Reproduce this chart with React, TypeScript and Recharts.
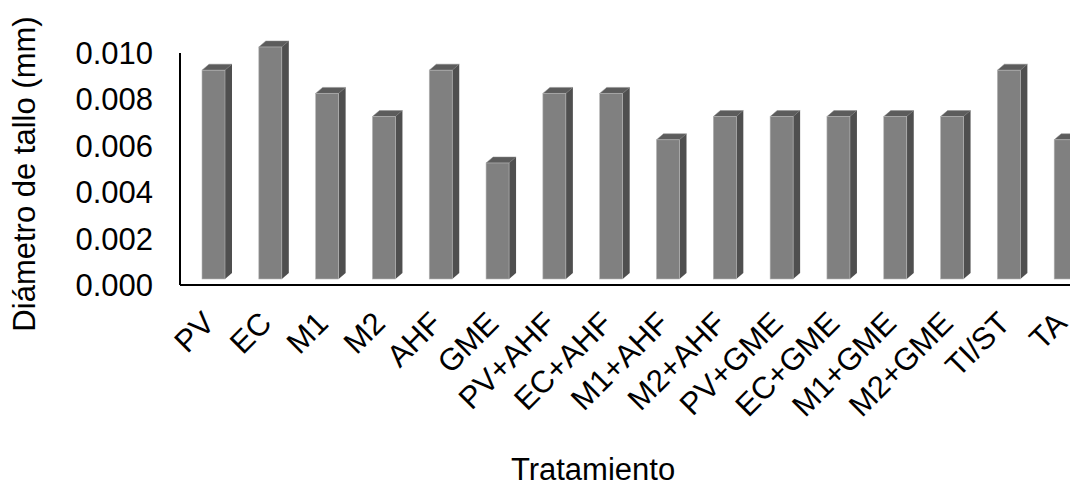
import { BarChart, Bar, XAxis, YAxis } from "recharts";

const categories = [
  "PV", "EC", "M1", "M2", "AHF", "GME", "PV+AHF", "EC+AHF",
  "M1+AHF", "M2+AHF", "PV+GME", "EC+GME", "M1+GME", "M2+GME", "TI/ST", "TA",
];
const diametro = [
  0.009, 0.01, 0.008, 0.007, 0.009, 0.005, 0.008, 0.008,
  0.006, 0.007, 0.007, 0.007, 0.007, 0.007, 0.009, 0.006,
];
const yTicks = [0, 0.002, 0.004, 0.006, 0.008, 0.01];

const data = categories.map((name, i) => ({ name, value: diametro[i] }));

const FONT = "'Liberation Sans', Arial, sans-serif";

// excel-style 3d column: front face, dark side, top
const Bar3D = (props: any) => {
  const { x, y, width, height } = props;
  const dx = 7;
  const dy = 6;
  const lift = 6;
  const top = y - lift;
  const bottom = y + height - lift;
  return (
    <g>
      <polygon
        points={`${x},${top} ${x + dx},${top - dy} ${x + width + dx},${top - dy} ${x + width},${top}`}
        fill="#5c5c5c"
        stroke="#8a8a8a"
        strokeWidth={0.5}
      />
      <polygon
        points={`${x + width},${top} ${x + width + dx},${top - dy} ${x + width + dx},${bottom - dy} ${x + width},${bottom}`}
        fill="#4f4f4f"
      />
      <rect x={x} y={top} width={width} height={height} fill="#808080" stroke="#b5b5b5" strokeWidth={0.6} />
    </g>
  );
};

const XTick = (props: any) => {
  const { x, payload } = props;
  return (
    <g transform={`translate(${x + 3},${317})`}>
      <text textAnchor="end" transform="rotate(-45)" fontSize={31} fontFamily={FONT} fill="#000">
        {payload.value}
      </text>
    </g>
  );
};

const YTick = (props: any) => {
  const { y, payload } = props;
  return (
    <text x={145} y={y} dy={11} textAnchor="end" fontSize={31} fontFamily={FONT} fill="#000">
      {payload.value.toFixed(3)}
    </text>
  );
};

export default function App() {
  return (
    <div style={{ width: 1070, height: 481, overflow: "hidden", position: "relative" }}>
      <BarChart
        width={1100}
        height={481}
        data={data}
        margin={{ top: 45, right: 14, left: 0, bottom: 0 }}
      >
        <XAxis
          dataKey="name"
          height={204}
          padding={{ left: 5, right: 0 }}
          axisLine={{ stroke: "#000", strokeWidth: 2 }}
          tickLine={false}
          interval={0}
          tick={<XTick />}
        />
        <YAxis
          width={172}
          domain={[0, 0.01]}
          ticks={yTicks}
          axisLine={{ stroke: "#000", strokeWidth: 2 }}
          tickLine={false}
          tick={<YTick />}
        />
        <Bar dataKey="value" barSize={23} shape={<Bar3D />} isAnimationActive={false} />
        <text
          x={27}
          y={166}
          transform="rotate(-90 27 166)"
          textAnchor="middle"
          fontSize={31}
          fontFamily={FONT}
          fill="#000"
        >
          Diámetro de tallo (mm)
        </text>
        <text x={585} y={472} textAnchor="middle" fontSize={31} fontFamily={FONT} fill="#000">
          Tratamiento
        </text>
      </BarChart>
    </div>
  );
}
